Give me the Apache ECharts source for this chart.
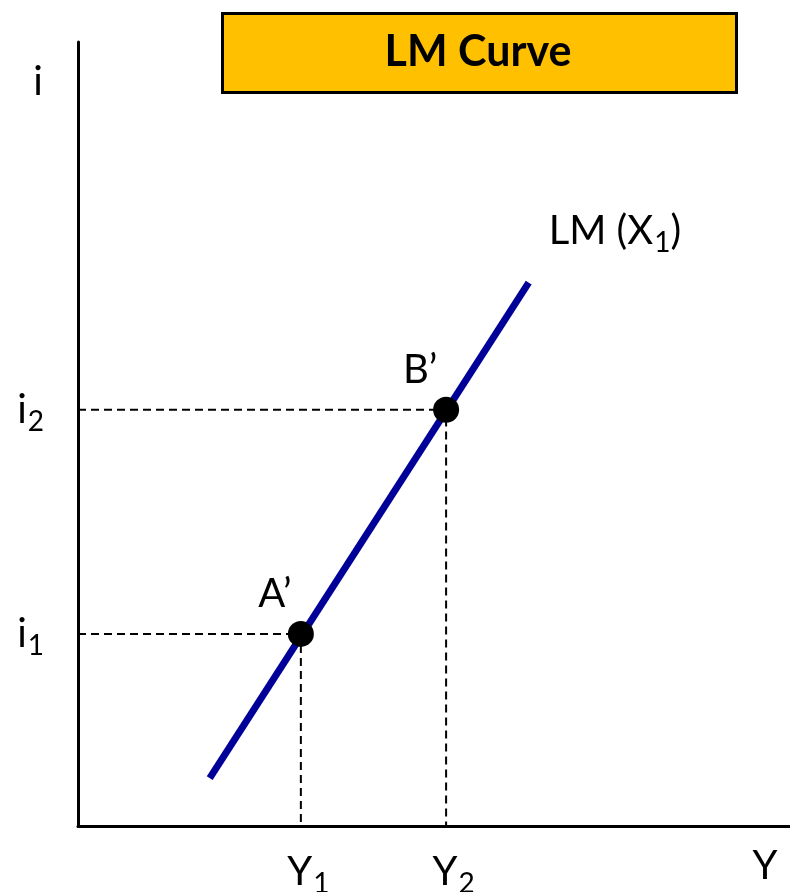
<!DOCTYPE html>
<html>
<head>
<meta charset="utf-8">
<script src="https://cdn.jsdelivr.net/npm/echarts@6/dist/echarts.min.js"></script>
<style>
html,body{margin:0;padding:0;background:#fff;}
#chart{width:790px;height:892px;}
</style>
</head>
<body>
<div id="chart"></div>
<script>
// ---- data (arbitrary units: Y on x-axis 0..100, i on y-axis 0..100) ----
const pointNames = ["A\u2019", "B\u2019"];
const pointY = [31.3, 51.7];          // Y1, Y2
const pointI = [24.5, 53.1];          // i1, i2
const yTickLabels = ["Y{s|1}", "Y{s|2}"];
const iTickLabels = ["i{s|1}", "i{s|2}"];
const lmY = [18.5, 63.3];             // LM line end points (Y)
const lmI = [6.1, 69.3];              // LM line end points (i)
const lmLabel = "LM (X{s|1})";
const titleText = "LM Curve";
const xAxisName = "Y";
const yAxisName = "i";

const FONT = "Lato";
const richSub = {
  s: { fontSize: 28, fontFamily: FONT, color: '#000', padding: [24, 0, 0, 1] }
};

const chart = echarts.init(document.getElementById('chart'), null, { renderer: 'canvas' });

const dashSeries = pointY.map((y, k) => ({
  type: 'line',
  data: [[0, pointI[k]], [y, pointI[k]], [y, 0]],
  symbol: 'none',
  lineStyle: { color: '#000', width: 2, type: [8, 5] },
  z: 2,
  silent: true,
  animation: false
}));

const option = {
  animation: false,
  grid: { left: 78, right: 0, top: 42, bottom: 66, containLabel: false, outerBoundsMode: 'none' },
  xAxis: {
    type: 'value', min: 0, max: 100,
    splitLine: { show: false },
    axisTick: { show: false },
    axisLine: { show: true, lineStyle: { color: '#000', width: 3 } },
    axisLabel: {
      show: true,
      customValues: pointY,
      formatter: (v) => yTickLabels[pointY.indexOf(v)],
      fontSize: 40, fontFamily: FONT, color: '#000',
      margin: 20,
      padding: [0, 0, 0, 15],
      rich: richSub
    }
  },
  yAxis: {
    type: 'value', min: 0, max: 100,
    splitLine: { show: false },
    axisTick: { show: false },
    axisLine: { show: true, lineStyle: { color: '#000', width: 3 } },
    axisLabel: {
      show: true,
      customValues: pointI,
      formatter: (v) => iTickLabels[pointI.indexOf(v)],
      fontSize: 40, fontFamily: FONT, color: '#000',
      margin: 34,
      rich: richSub
    }
  },
  graphic: [
    {
      type: 'rect', left: 221, top: 12,
      shape: { width: 514, height: 79 },
      style: { fill: '#FFC000', stroke: '#000', lineWidth: 3 },
      z: 10
    },
    {
      type: 'text', x: 478, y: 52,
      style: { text: titleText, font: 'bold 43px ' + FONT, fill: '#000', align: 'center', verticalAlign: 'middle' },
      z: 11
    },
    {
      type: 'text', x: 38, y: 82,
      style: { text: yAxisName, font: '40px ' + FONT, fill: '#000', align: 'center', verticalAlign: 'middle' },
      z: 11
    },
    {
      type: 'text', x: 765, y: 866,
      style: { text: xAxisName, font: '40px ' + FONT, fill: '#000', align: 'center', verticalAlign: 'middle' },
      z: 11
    }
  ],
  series: [
    ...dashSeries,
    {
      type: 'line',
      data: [[lmY[0], lmI[0]], [lmY[1], lmI[1]]],
      symbol: 'none',
      lineStyle: { color: '#000099', width: 7, cap: 'butt' },
      z: 3,
      endLabel: {
        show: true,
        formatter: lmLabel,
        fontSize: 40, fontFamily: FONT, color: '#000',
        offset: [12, -52],
        rich: richSub
      }
    },
    {
      type: 'scatter',
      data: pointY.map((y, k) => ({ value: [y, pointI[k]], name: pointNames[k] })),
      symbol: 'circle',
      symbolSize: 26,
      itemStyle: { color: '#000', opacity: 1 },
      z: 4,
      label: {
        show: true,
        position: 'top',
        formatter: (p) => p.name,
        offset: [-26, -2],
        fontSize: 40, fontFamily: FONT, color: '#000', opacity: 1
      }
    }
  ]
};
chart.setOption(option);
</script>
</body>
</html>
